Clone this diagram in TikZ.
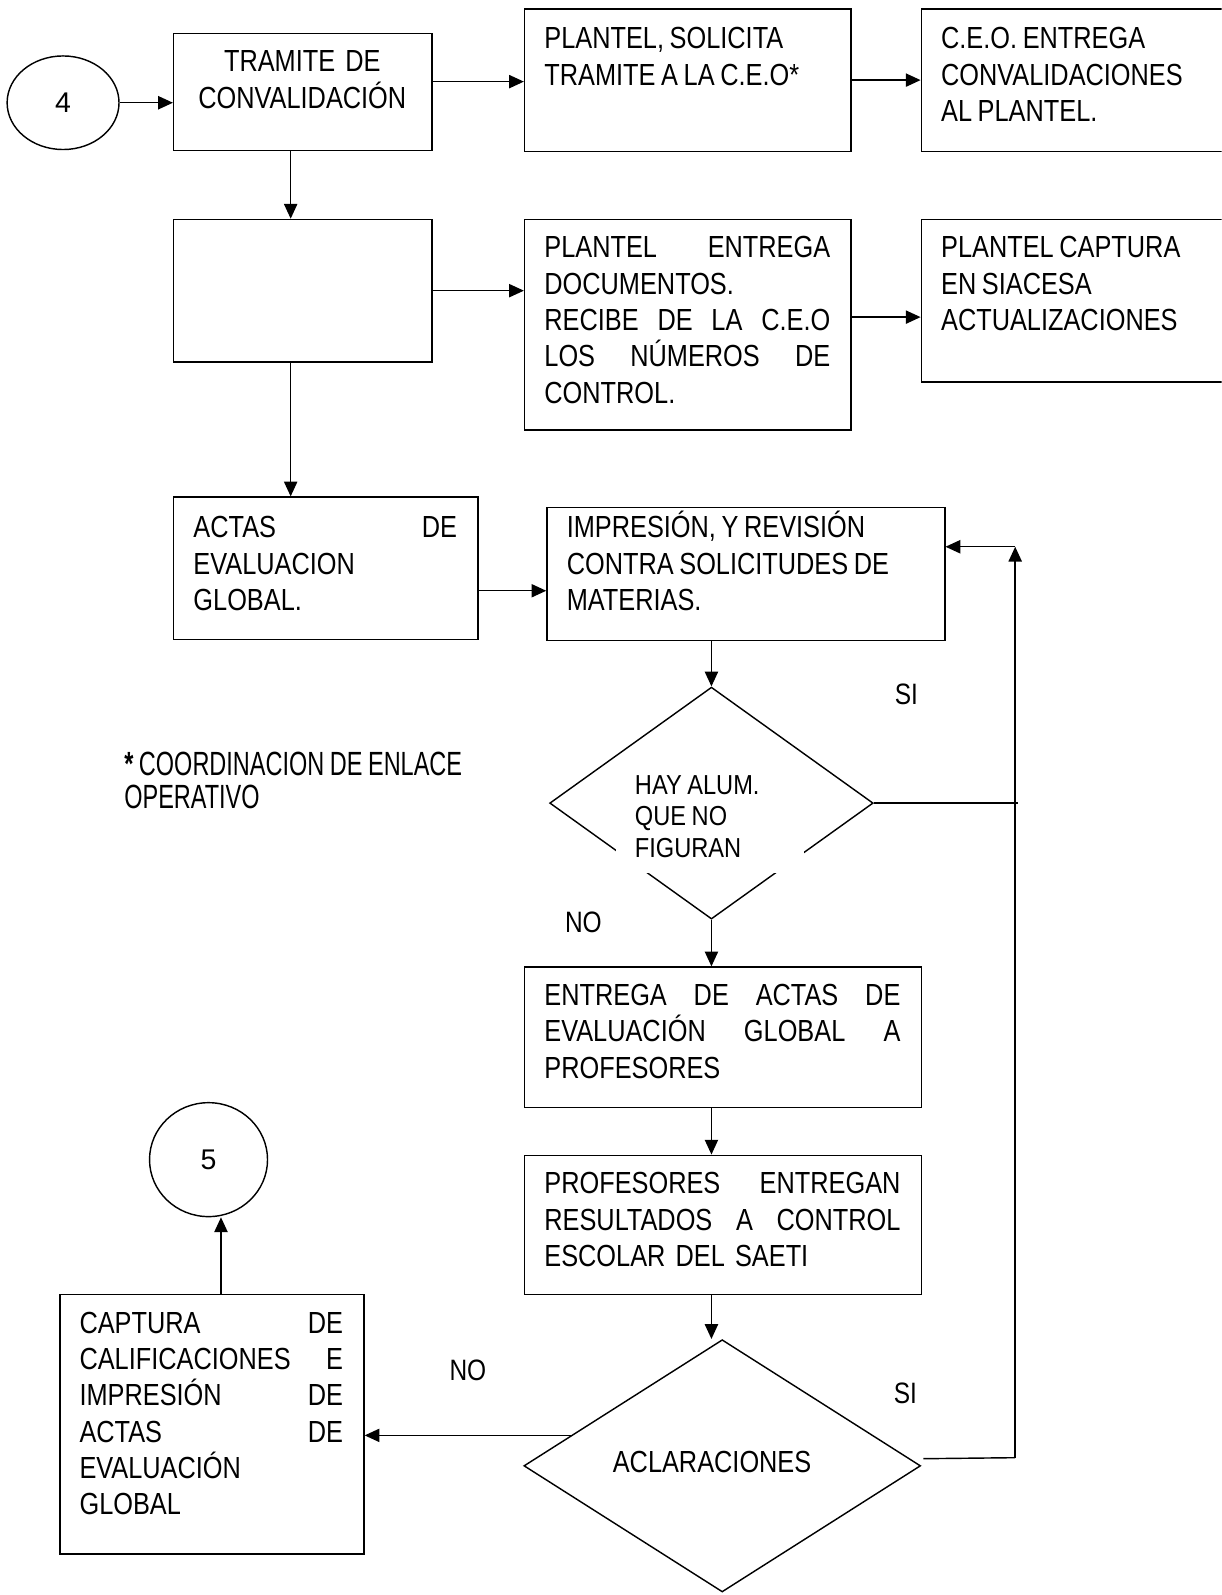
\documentclass[tikz,border=0pt]{standalone}
\usepackage{fontspec}
\setmainfont{Liberation Sans}[FakeStretch=0.83,WordSpace=0.8]
\newfontfamily\footfont{Liberation Sans}[FakeStretch=0.70,WordSpace=0.85]
\newfontfamily\hayfont{Liberation Sans}[FakeStretch=0.86,WordSpace=0.85]
\newfontfamily\digitfont{Liberation Sans}
\usetikzlibrary{arrows.meta,shapes.geometric}
\newcommand{\fstrut}{\rule{0pt}{29pt}}
\begin{document}
\begin{tikzpicture}[x=1pt,y=-1pt,
  box/.style={draw,line width=1.5pt,rectangle,inner sep=0pt,anchor=north west},
  txt/.style={anchor=north west,inner sep=0pt,align=left,font=\fontsize{30}{35.7}\selectfont},
  arr/.style={line width=1.4pt,-{Triangle[length=14.5pt,width=13pt]}},
  ln/.style={line width=1.4pt},
  lab/.style={inner sep=0pt,font=\fontsize{29}{33}\selectfont},
  circ/.style={draw,line width=1.4pt,ellipse,inner sep=0pt,font=\digitfont\fontsize{28}{30}\selectfont},
  dia/.style={draw,line width=1.4pt,diamond,inner sep=0pt}]
\useasboundingbox (0,0) rectangle (1201,1568);
\clip (0,0) rectangle (1201,1568);

% ---- row 1
\node[circ,minimum width=110pt,minimum height=92pt] (c4) at (62,101) {4};
\node[box,minimum width=254pt,minimum height=115pt] (tram) at (170,32) {};
\node[txt,text width=254pt,align=center] (tramT) at (170,41.4) {\fstrut TRAMITE DE\\CONVALIDACIÓN};
\node[box,minimum width=321pt,minimum height=140pt] (sol) at (515,8) {};
\node[txt] (solT) at (535,18.7) {\fstrut PLANTEL, SOLICITA\\TRAMITE A LA C.E.O*};
\node[box,minimum width=320pt,minimum height=140pt] (ceo) at (905,8) {};
\node[txt] (ceoT) at (925,18.7) {\fstrut C.E.O. ENTREGA\\CONVALIDACIONES\\AL PLANTEL.};

% ---- row 2
\node[box,minimum width=254pt,minimum height=140pt] (empty) at (170,215) {};
\node[box,minimum width=321pt,minimum height=207pt] (ent) at (515,215) {};
\node[txt,text width=281pt] (entT) at (535,224.4) {\fstrut PLANTEL\hfill ENTREGA\\DOCUMENTOS.\\RECIBE\hfill DE\hfill LA\hfill C.E.O\\LOS\hfill NÚMEROS\hfill DE\\CONTROL.};
\node[box,minimum width=320pt,minimum height=160pt] (captr) at (905,215) {};
\node[txt] (captrT) at (925,224.4) {\fstrut PLANTEL CAPTURA\\EN SIACESA\\ACTUALIZACIONES};

% ---- row 3
\node[box,minimum width=299pt,minimum height=140pt] (actas) at (170,488) {};
\node[txt,text width=259pt] (actasT) at (190,499.4) {\fstrut ACTAS\hfill DE\\EVALUACION\\GLOBAL.};
\node[box,minimum width=391pt,minimum height=131pt] (impr) at (537,498) {};
\node[txt] (imprT) at (557,499.4) {\fstrut IMPRESIÓN, Y REVISIÓN\\CONTRA SOLICITUDES DE\\MATERIAS.};

% ---- decision 1
\node[dia,minimum width=318pt,minimum height=228pt] (hay) at (699.4,789.5) {};
\fill[white] (606,752) rectangle (790,858);
\node[anchor=north west,inner sep=0pt,align=left,font=\hayfont\fontsize{27}{31}\selectfont] (hayT) at (624,754.5) {\rule{0pt}{26pt}HAY ALUM.\\QUE NO\\FIGURAN};

\node[anchor=north west,inner sep=0pt,align=left,font=\footfont\fontsize{33}{33}\selectfont] (fn) at (122,731.8) {\rule{0pt}{30pt}{\bfseries *} COORDINACION DE ENLACE\\OPERATIVO};

% ---- lower column
\node[box,minimum width=390pt,minimum height=138pt] (entA) at (515,950) {};
\node[txt,text width=350pt] (entAT) at (535,959.4) {\fstrut ENTREGA\hfill DE\hfill ACTAS\hfill DE\\EVALUACIÓN\hfill GLOBAL\hfill A\\PROFESORES};
\node[box,minimum width=390pt,minimum height=137pt] (prof) at (515,1135) {};
\node[txt,text width=350pt] (profT) at (535,1144.4) {\fstrut PROFESORES\hfill ENTREGAN\\RESULTADOS\hfill A\hfill CONTROL\\ESCOLAR DEL SAETI};

\node[dia,minimum width=390pt,minimum height=248pt] (acl) at (710,1441) {};
\node[inner sep=0pt,font=\fontsize{30}{35.7}\selectfont] (aclT) at (700,1437) {ACLARACIONES};

\node[box,minimum width=299pt,minimum height=255pt] (capt) at (58,1272) {};
\node[txt,text width=259pt] (captT) at (78,1281.4) {\fstrut CAPTURA\hfill DE\\CALIFICACIONES\hfill E\\IMPRESIÓN\hfill DE\\ACTAS\hfill DE\\EVALUACIÓN\\GLOBAL};

\node[circ,minimum width=116pt,minimum height=112pt] (c5) at (205,1140) {5};

% ---- labels
\node[lab] (si1) at (891,683) {SI};
\node[lab] (no1) at (573.5,907) {NO};
\node[lab] (no2) at (460,1347) {NO};
\node[lab] (si2) at (890,1370) {SI};

% ---- connectors
\draw[arr] (c4.east) -- (c4.east -| tram.west);
\draw[arr] ([yshift=10pt]tram.east) -- ([yshift=10pt]tram.east -| sol.west);
\draw[arr] (sol.east) -- (ceo.west);
\draw[arr] ([xshift=-12pt]tram.south) -- ([xshift=-12pt]tram.south |- empty.north);
\draw[arr] (empty.east) -- (empty.east -| ent.west);
\draw[arr] ([yshift=7.5pt]ent.east) -- ([yshift=7.5pt]ent.east -| captr.west);
\draw[arr] ([xshift=-12pt]empty.south) -- ([xshift=-12pt]empty.south |- actas.north);
\draw[arr] ([yshift=-22pt]actas.east) -- ([yshift=-22pt]actas.east -| impr.west);
\draw[arr] (impr.south -| hay.north) -- (hay.north);
\draw[arr] (hay.south) -- (hay.south |- entA.north);
\draw[arr] (entA.south -| hay.south) -- (prof.north -| hay.south);
\draw[arr] (prof.south -| hay.south) -- (hay.south |- acl.north);
\path (acl.west) -- (acl.north) coordinate[pos=0.24] (noS);
\draw[arr] (noS) -- (noS -| capt.east);
\draw[arr] ([xshift=9pt]capt.north) -- ([xshift=9pt]capt.north |- c5.south);
\coordinate (lb) at (998,1433);
\coordinate (lt) at (998,537.5);
\draw[ln] ([xshift=2pt,yshift=7pt]acl.east) -- (lb);
\draw[arr] (lb) -- (lt);
\draw[arr] (lt) -- (lt -| impr.east);
\draw[ln] (hay.east) -- ++(142,0);
\end{tikzpicture}
\end{document}
